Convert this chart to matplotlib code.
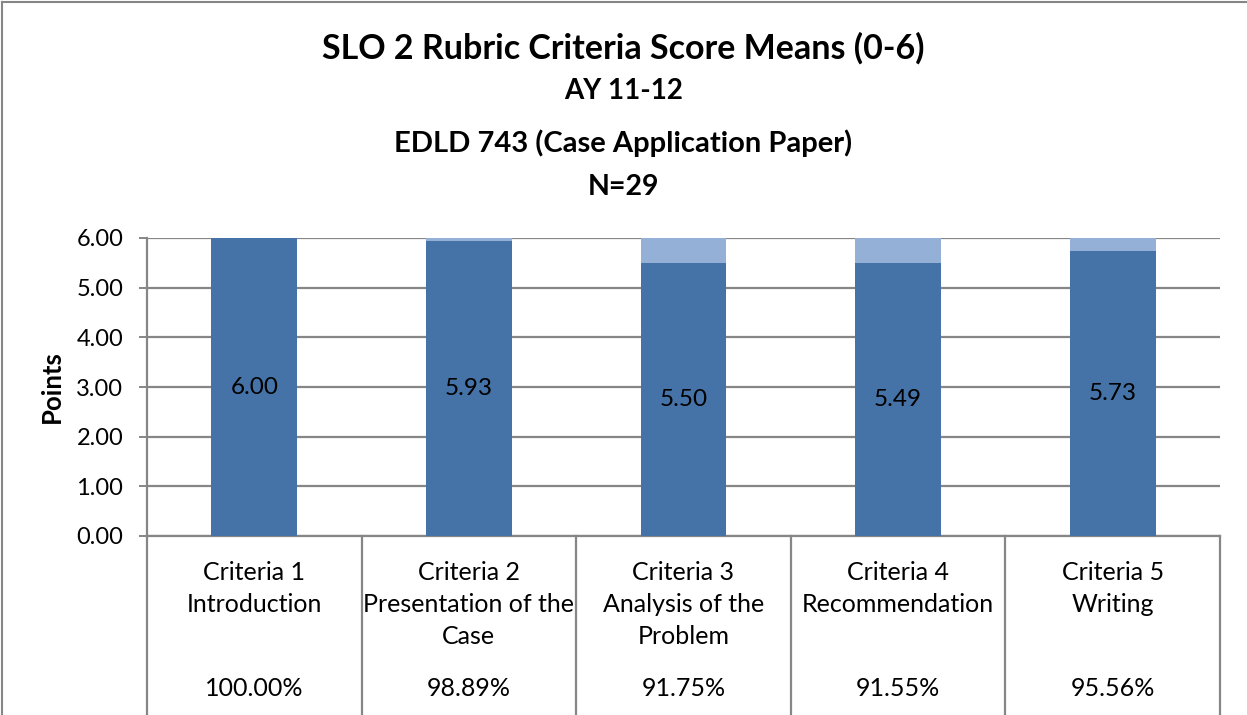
import matplotlib
matplotlib.use("Agg")
import matplotlib.pyplot as plt
from matplotlib.lines import Line2D

plt.rcParams['font.family'] = ['Lato', 'DejaVu Sans']

categories = ["Criteria 1\nIntroduction", "Criteria 2\nPresentation of the\nCase",
              "Criteria 3\nAnalysis of the\nProblem", "Criteria 4\nRecommendation",
              "Criteria 5\nWriting"]
means = [6.00, 5.93, 5.50, 5.49, 5.73]
max_score = 6.0
percentages = ["100.00%", "98.89%", "91.75%", "91.55%", "95.56%"]
yticks = [0, 1, 2, 3, 4, 5, 6]

W, H = 1247, 715
fig = plt.figure(figsize=(W / 100, H / 100), dpi=100)
ax = fig.add_axes([147 / W, (H - 536) / H, (1220 - 147) / W, (536 - 238) / H])

dark = "#4572A7"
light = "#95B0D6"
grid = "#868686"

x = list(range(len(means)))
remain = [max_score - m for m in means]
ax.bar(x, means, width=0.4, color=dark, zorder=3)
ax.bar(x, remain, bottom=means, width=0.4, color=light, zorder=3)
for xi, m in zip(x, means):
    ax.text(xi, m / 2, f"{m:.2f}", ha="center", va="center", fontsize=17.5, color="black", zorder=4)

ax.set_xlim(-0.5, len(means) - 0.5)
ax.set_ylim(0, 6)
ax.set_yticks(yticks)
ax.set_yticklabels([f"{v:.2f}" for v in yticks], fontsize=17)
ax.yaxis.grid(True, color=grid, linewidth=1.6, zorder=0)
ax.set_axisbelow(True)
ax.tick_params(axis="y", length=6, width=1.4, color=grid, pad=11)
ax.set_xticks([])
for s in ["top", "right"]:
    ax.spines[s].set_visible(False)
for s in ["left", "bottom"]:
    ax.spines[s].set_color(grid)
    ax.spines[s].set_linewidth(1.6)

ax.set_ylabel("Points", fontsize=18.5, fontweight="bold", labelpad=9)

# category table below axis
trans = ax.get_xaxis_transform()
ybot = -(H - 536) / 298 - 0.05
for b in [i - 0.5 for i in range(len(means) + 1)]:
    ax.add_line(Line2D([b, b], [0, ybot], transform=trans, color=grid, linewidth=1.6, clip_on=False))

px = 1 / 298.0
for xi, lab, pct in zip(x, categories, percentages):
    for k, line in enumerate(lab.split("\n")):
        ax.text(xi, -(573 + 32 * k - 536) * px, line, transform=trans, ha="center", va="center",
                fontsize=18, clip_on=False)
    ax.text(xi, -(689 - 536) * px, pct, transform=trans, ha="center", va="center",
            fontsize=18, clip_on=False)

# titles
fig.text(0.5, 1 - 48 / H, "SLO 2 Rubric Criteria Score Means (0-6)", ha="center", va="center",
         fontsize=24.5, fontweight="bold")
fig.text(0.5, 1 - 91 / H, "AY 11-12", ha="center", va="center", fontsize=20, fontweight="bold")
fig.text(0.5, 1 - 143 / H, "EDLD 743 (Case Application Paper)", ha="center", va="center",
         fontsize=21, fontweight="bold")
fig.text(0.5, 1 - 187 / H, "N=29", ha="center", va="center", fontsize=20.5, fontweight="bold")

# outer frame (top and left edges)
fig.add_artist(Line2D([2 / W, 2 / W], [0, 1 - 2 / H], transform=fig.transFigure, color=grid, linewidth=1.5))
fig.add_artist(Line2D([2 / W, 1], [1 - 2 / H, 1 - 2 / H], transform=fig.transFigure, color=grid, linewidth=1.5))

fig.savefig("out.png", dpi=100)
